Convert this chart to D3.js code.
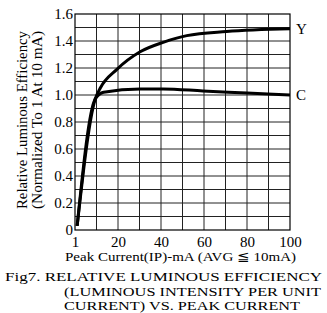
<!DOCTYPE html>
<html>
<head>
<meta charset="utf-8">
<script src="https://cdn.jsdelivr.net/npm/d3@7"></script>
<style>
  body { margin: 0; background: #fff; }
  svg { display: block; font-family: "Liberation Serif", serif; }
</style>
</head>
<body>
<div id="chart"></div>
<script>
// Series (x = peak current in mA, y = relative efficiency)
const yellowSeries = [
    [1, 0.03], [9.4, 0.97], [11.7, 1.05], [19.5, 1.19], [30.3, 1.32],
    [41, 1.39], [52, 1.44], [70.5, 1.47], [100, 1.49]
];
const greenSeries = [
    [1, 0.03], [9.4, 0.97], [13.3, 1.02], [30.3, 1.045], [41, 1.045],
    [59.5, 1.03], [80, 1.015], [100, 1.0]
];
const seriesNames = ["Y", "C"];
const xTicks = [0, 20, 40, 60, 80, 100];
const xTickLabels = ["1", "20", "40", "60", "80", "100"];
const yTicks = [0, 0.2, 0.4, 0.6, 0.8, 1.0, 1.2, 1.4, 1.6];
const yTickLabels = ["0", "0.2", "0.4", "0.6", "0.8", "1.0", "1.2", "1.4", "1.6"];

const W = 327, H = 313;
const margin = { top: 14, right: 37, bottom: 83, left: 75 };
const width = W - margin.left - margin.right;
const height = H - margin.top - margin.bottom;

const svg = d3.select("#chart").append("svg")
    .attr("width", W).attr("height", H);

const g = svg.append("g")
    .attr("transform", `translate(${margin.left},${margin.top})`);

const x = d3.scaleLinear().domain([0, 100]).range([0, width]);
const y = d3.scaleLinear().domain([0, 1.6]).range([height, 0]);

// grid
g.append("g").selectAll("line")
    .data(d3.range(10, 100, 10))
    .join("line")
    .attr("x1", d => x(d)).attr("x2", d => x(d))
    .attr("y1", 0).attr("y2", height)
    .attr("stroke", "#222").attr("stroke-width", 1);

g.append("g").selectAll("line")
    .data(d3.range(1, 16).map(i => i / 10))
    .join("line")
    .attr("y1", d => y(d)).attr("y2", d => y(d))
    .attr("x1", 0).attr("x2", width)
    .attr("stroke", "#222").attr("stroke-width", 1);

g.append("rect")
    .attr("width", width).attr("height", height)
    .attr("fill", "none").attr("stroke", "#000").attr("stroke-width", 1.2);

// axes (labels only)
const xAxis = g.append("g")
    .attr("transform", `translate(0,${height})`)
    .call(d3.axisBottom(x).tickValues(xTicks).tickSize(0)
        .tickFormat((d, i) => xTickLabels[i]));
xAxis.select(".domain").remove();
xAxis.selectAll("text")
    .attr("dy", "0.95em")
    .attr("font-size", 15)
    .attr("font-family", "Liberation Serif, serif")
    .attr("fill", "#000");

const yAxis = g.append("g")
    .call(d3.axisLeft(y).tickValues(yTicks).tickSize(0)
        .tickFormat((d, i) => yTickLabels[i]));
yAxis.select(".domain").remove();
yAxis.selectAll("text")
    .attr("x", -2)
    .attr("font-size", 15)
    .attr("font-family", "Liberation Serif, serif")
    .attr("fill", "#000");

// curves
const line = d3.line()
    .x(d => x(d[0]))
    .y(d => y(d[1]))
    .curve(d3.curveMonotoneX);

[yellowSeries, greenSeries].forEach((s, i) => {
    g.append("path")
        .datum(s)
        .attr("fill", "none")
        .attr("stroke", "#000")
        .attr("stroke-width", 3)
        .attr("stroke-linejoin", "round")
        .attr("d", line);

    const last = s[s.length - 1];
    g.append("text")
        .attr("x", x(last[0]) + 6)
        .attr("y", y(last[1]))
        .attr("dy", "0.35em")
        .attr("font-size", 15)
        .text(seriesNames[i]);
});

// y axis title
const yt = svg.append("g")
    .attr("transform", `translate(27,120) rotate(-90)`);
yt.append("text")
    .attr("text-anchor", "middle")
    .attr("font-size", 14)
    .attr("textLength", 178).attr("lengthAdjust", "spacingAndGlyphs")
    .text("Relative Luminous Efficiency");
yt.append("text")
    .attr("y", 15)
    .attr("text-anchor", "middle")
    .attr("font-size", 14)
    .attr("textLength", 178).attr("lengthAdjust", "spacingAndGlyphs")
    .text("(Normalized To 1 At 10 mA)");

// x axis title
svg.append("text")
    .attr("x", 65).attr("y", 261)
    .attr("font-size", 13)
    .attr("textLength", 231).attr("lengthAdjust", "spacingAndGlyphs")
    .text("Peak Current(IP)-mA (AVG ≦ 10mA)");

// caption
const captionLines = [
    ["Fig7. RELATIVE LUMINOUS EFFICIENCY", 5, 281, 317],
    ["(LUMINOUS INTENSITY PER UNIT", 64, 295.5, 257],
    ["CURRENT) VS. PEAK CURRENT", 64, 310, 236]
];
captionLines.forEach(([t, cx, cy, len]) => {
    svg.append("text")
        .attr("x", cx).attr("y", cy)
        .attr("font-size", 13.5)
        .attr("textLength", len).attr("lengthAdjust", "spacingAndGlyphs")
        .text(t);
});
</script>
</body>
</html>
